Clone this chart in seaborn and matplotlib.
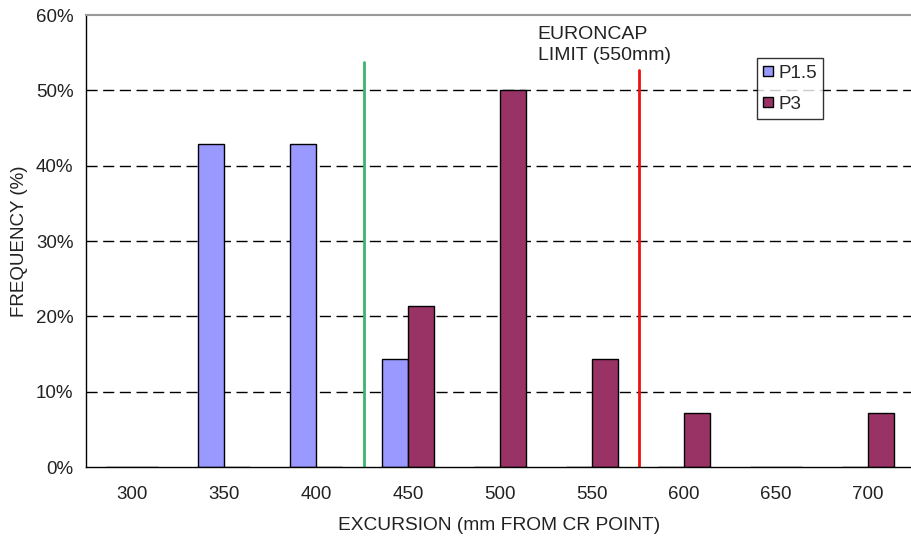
import numpy as np
import pandas as pd
import matplotlib
matplotlib.use("Agg")
import matplotlib.pyplot as plt
import seaborn as sns
from matplotlib.ticker import PercentFormatter, FixedLocator, NullFormatter

excursion = ["300", "350", "400", "450", "500", "550", "600", "650", "700"]
p15 = [0, 42.86, 42.86, 14.29, 0, 0, 0, 0, 0]
p3 = [0, 0, 0, 21.43, 50.0, 14.29, 7.14, 0, 7.14]
series = ["P1.5", "P3"]
colors = ["#9999FF", "#993366"]

df = pd.DataFrame({
    "excursion": excursion * 2,
    "freq": p15 + p3,
    "series": [series[0]] * len(excursion) + [series[1]] * len(excursion),
})

sns.set_style("white")
plt.rcParams["font.family"] = ["Liberation Sans", "DejaVu Sans"]

fig = plt.figure(figsize=(9.12, 5.36), dpi=100)
ax = fig.add_axes([86 / 912, 69 / 536, 1 - 86 / 912, (467 - 15) / 536])

sns.barplot(data=df, x="excursion", y="freq", hue="series", order=excursion,
            palette=colors, width=2 / 3.5, edgecolor="black", linewidth=1.0,
            saturation=1, ax=ax)

ax.set_ylim(0, 60)
ax.set_xlim(-0.5, 8.478)
ax.yaxis.set_major_formatter(PercentFormatter(decimals=0))
ax.set_yticks(np.arange(0, 61, 10))
for v in range(10, 60, 10):
    ax.axhline(v, color="black", linestyle=(0, (8, 4)), linewidth=1.0, zorder=0)

# category boundaries as ticks
ax.xaxis.set_minor_locator(FixedLocator(np.arange(-0.5, 8.5, 1)))
ax.xaxis.set_minor_formatter(NullFormatter())
ax.tick_params(axis="x", which="major", length=0, labelsize=13.5, pad=14, labelcolor="#222222")
ax.tick_params(axis="x", which="minor", length=6, width=1, direction="out", color="black")
ax.tick_params(axis="y", which="major", length=8, width=1, direction="inout", color="black",
               labelsize=13.5, pad=5, labelcolor="#222222")

for s in ["left", "bottom"]:
    ax.spines[s].set_color("black")
    ax.spines[s].set_linewidth(1.0)
ax.spines["top"].set_color("#999999")
ax.spines["top"].set_linewidth(1.5)
ax.spines["right"].set_visible(False)

ax.set_xlabel("EXCURSION (mm FROM CR POINT)", fontsize=13.8, color="#222222", labelpad=10)
ax.set_ylabel("FREQUENCY (%)", fontsize=13.5, color="#222222", labelpad=6)

ax.axvline(2.52, ymin=0, ymax=53.7 / 60, color="#3CB371", linewidth=2)
ax.axvline(5.51, ymin=0, ymax=52.7 / 60, color="#EE1111", linewidth=2)
ax.text(4.41, 56.0, "EURONCAP\nLIMIT (550mm)", fontsize=14, color="#222222",
        ha="left", va="center", linespacing=1.3)

leg = ax.legend(loc="upper left", bbox_to_anchor=(0.812, 0.905), borderaxespad=0,
                frameon=True, fancybox=False, edgecolor="black", fontsize=13.5,
                handlelength=0.5, handleheight=0.5, handletextpad=0.3,
                labelspacing=0.75, borderpad=0.35, title=None)
leg.get_frame().set_linewidth(1.0)

fig.savefig("out.png", dpi=100)
